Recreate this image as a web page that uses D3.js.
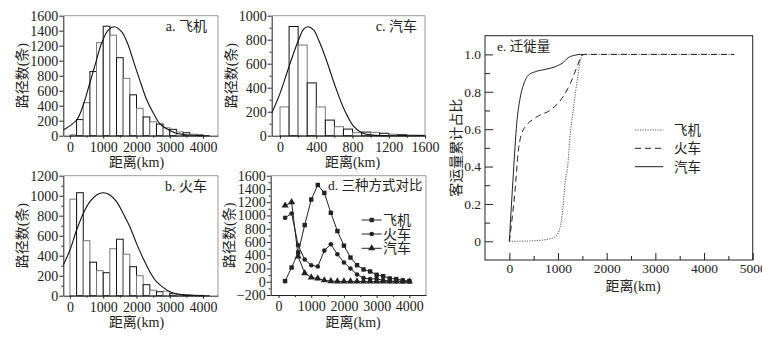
<!DOCTYPE html>
<html>
<head>
<meta charset="utf-8">
<script src="https://cdn.jsdelivr.net/npm/d3@7"></script>
<style>
body { margin: 0; background: #fff; }
svg text { font-family: "Liberation Serif", "Noto Sans CJK SC", serif; fill: #222; }
</style>
</head>
<body>
<script>
//histogram bins, 200 km wide (lower edge of each bin)
var binStart = [0, 200, 400, 600, 800, 1000, 1200, 1400, 1600, 1800, 2000, 2200, 2400, 2600, 2800, 3000, 3200, 3400, 3600, 3800];
var planeCounts = [10, 215, 440, 855, 1240, 1460, 1340, 1040, 765, 545, 365, 250, 185, 155, 105, 85, 50, 40, 20, 10];
var trainCounts = [965, 1030, 550, 335, 250, 230, 470, 565, 415, 290, 200, 110, 55, 40, 45, 20, 10, 5, 5, 3];

//car bins are 100 km wide
var carBinStart = [0, 100, 200, 300, 400, 500, 600, 700, 800, 900, 1000, 1100, 1200, 1300, 1400, 1500];
var carCounts = [240, 910, 755, 440, 240, 130, 75, 55, 25, 30, 28, 20, 12, 8, 5, 3];

//panel d: counts at upper bin edge
var compX = [200, 400, 600, 800, 1000, 1200, 1400, 1600, 1800, 2000, 2200, 2400, 2600, 2800, 3000, 3200, 3400, 3600, 3800, 4000];
var compCar = [1150, 1200, 380, 130, 65, 50, 22, 10, 5, 5, 5, 5, 5, 5, 5, 5, 5, 5, 5, 3];

//fitted curves
var planeFitX = [-200, 200, 400, 580, 770, 950, 1150, 1330, 1550, 1730, 1930, 2130, 2310, 2510, 2690, 2880, 3150, 3550, 4200];
var planeFitY = [76, 209, 409, 676, 965, 1232, 1409, 1453, 1387, 1232, 965, 699, 476, 299, 165, 99, 40, 9, 0];
var trainFitX = [-200, 0, 200, 400, 600, 800, 1000, 1200, 1400, 1600, 1800, 2000, 2200, 2400, 2600, 2800, 3000, 3300, 3750, 4200];
var trainFitY = [307, 457, 657, 823, 940, 1007, 1030, 1007, 940, 823, 690, 523, 373, 240, 140, 83, 40, 13, 2, 0];
var carFitX = [-92, 0, 56, 111, 204, 259, 307, 370, 426, 511, 611, 711, 815, 915, 1019, 1200, 1500];
var carFitY = [187, 353, 478, 603, 797, 887, 908, 881, 797, 631, 408, 214, 75, 20, 5, 0, 0];

//panel e: cumulative share of passengers
var eCarX = [0, 83, 152, 221, 289, 393, 531, 738, 944, 1082, 1219, 1357, 1460, 1520];
var eCarY = [0, 0.364, 0.63, 0.765, 0.836, 0.889, 0.907, 0.92, 0.934, 0.952, 0.984, 0.996, 1.0, 1.0];
var eTrainX = [0, 118, 186, 256, 360, 566, 841, 1082, 1254, 1392, 1496, 1560, 4620];
var eTrainY = [0, 0.274, 0.488, 0.578, 0.622, 0.666, 0.702, 0.765, 0.845, 0.934, 0.996, 1.0, 1.0];
var ePlaneX = [0, 428, 772, 944, 1047, 1103, 1151, 1199, 1240, 1323, 1405, 1496, 1550, 4620];
var ePlaneY = [0, 0.002, 0.01, 0.025, 0.078, 0.185, 0.328, 0.399, 0.542, 0.72, 0.88, 0.996, 1.0, 1.0];

//tick values
var kmTicks = [0, 1000, 2000, 3000, 4000];
var kmMinor = [500, 1500, 2500, 3500];
var carKmTicks = [0, 400, 800, 1200, 1600];
var carKmMinor = [200, 600, 1000, 1400];
var eKmTicks = [0, 1000, 2000, 3000, 4000, 5000];
var eKmMinor = [500, 1500, 2500, 3500, 4500];
var eShareTicks = [0, 0.2, 0.4, 0.6, 0.8, 1.0];
var eShareMinor = [0.1, 0.3, 0.5, 0.7, 0.9];
var legendNames = ["飞机", "火车", "汽车"];

var svg = d3.select("body").append("svg")
    .attr("width", 762)
    .attr("height", 339);

var intFmt = function(d){ return d < 0 ? "\u2212" + (-d) : String(d); };

function styleAxis(g){
    g.selectAll("path, line").attr("stroke", "#222").attr("stroke-width", 1);
    g.selectAll("text").attr("font-size", 14).attr("fill", "#222");
}

//left/bottom axes with a light frame for panels a-d
function setAxes(box, x, y, yTicks, yMinor, xTicks, xMinor){
    var g = svg.append("g");

    //light top and right border
    g.append("path")
        .attr("d", "M" + box.l + "," + box.t + "H" + box.r + "V" + box.b)
        .attr("fill", "none")
        .attr("stroke", "#9a9a9a");

    var ya = g.append("g").attr("transform", "translate(" + box.l + ",0)")
        .call(d3.axisLeft(y).tickValues(yTicks).tickSize(4).tickSizeOuter(0).tickPadding(1).tickFormat(intFmt));
    styleAxis(ya);
    if (yMinor) {
        var ym = g.append("g").attr("transform", "translate(" + box.l + ",0)")
            .call(d3.axisLeft(y).tickValues(yMinor).tickSize(2).tickFormat(""));
        ym.select(".domain").remove();
        styleAxis(ym);
    }

    var xa = g.append("g").attr("transform", "translate(0," + box.b + ")")
        .call(d3.axisBottom(x).tickValues(xTicks).tickSize(3).tickSizeOuter(0).tickPadding(3).tickFormat(intFmt));
    styleAxis(xa);
    var xm = g.append("g").attr("transform", "translate(0," + box.b + ")")
        .call(d3.axisBottom(x).tickValues(xMinor).tickSize(2).tickFormat(""));
    xm.select(".domain").remove();
    styleAxis(xm);
    return g;
}

function axisTitles(box, xMid, title, titleX){
    svg.append("text")
        .attr("transform", "translate(" + (box.l - 36) + "," + ((box.t + box.b) / 2) + ") rotate(-90)")
        .attr("text-anchor", "middle")
        .attr("font-size", 14)
        .text("路径数(条)");
    svg.append("text")
        .attr("x", xMid)
        .attr("y", box.b + 31)
        .attr("text-anchor", "middle")
        .attr("font-size", 14)
        .text("距离(km)");
    svg.append("text")
        .attr("x", titleX)
        .attr("y", box.t + 15)
        .attr("text-anchor", "end")
        .attr("font-size", 14)
        .text(title);
}

function histPanel(box, xDom, yMax, starts, width, counts, fitX, fitY, ticks){
    var x = d3.scaleLinear().domain(xDom).range([box.l, box.r]);
    var y = d3.scaleLinear().domain([0, yMax]).range([box.b, box.t]);

    svg.append("g").selectAll("rect")
        .data(counts)
        .enter()
        .append("rect")
        .attr("x", function(d, i){ return x(starts[i]); })
        .attr("width", function(d, i){ return x(starts[i] + width) - x(starts[i]); })
        .attr("y", function(d){ return y(d); })
        .attr("height", function(d){ return y(0) - y(d); })
        .attr("fill", "#fff")
        .attr("stroke", function(d, i){ return i % 2 ? "#111" : "#777"; })
        .attr("stroke-width", 1);

    var line = d3.line()
        .x(function(d){ return x(d[0]); })
        .y(function(d){ return y(d[1]); })
        .curve(d3.curveCatmullRom);
    svg.append("path")
        .datum(d3.zip(fitX, fitY))
        .attr("d", line)
        .attr("fill", "none")
        .attr("stroke", "#111")
        .attr("stroke-width", 1.1);

    var yTicks = d3.range(0, yMax + 1, 200);
    var yMinor = ticks.yMinor ? d3.range(100, yMax, 200) : null;
    setAxes(box, x, y, yTicks, yMinor, ticks.x, ticks.xm);
    return x;
}

//a. plane
var boxA = {l: 63.3, r: 218, t: 15.7, b: 135.7};
var xA = histPanel(boxA, [-200, 4450], 1600, binStart, 200, planeCounts, planeFitX, planeFitY,
    {x: kmTicks, xm: kmMinor, yMinor: false});
axisTitles(boxA, xA(2000), "a. 飞机", 207);

//c. car
var boxC = {l: 271.7, r: 425, t: 15.7, b: 135.7};
var xC = histPanel(boxC, [-92, 1600], 1000, carBinStart, 100, carCounts, carFitX, carFitY,
    {x: carKmTicks, xm: carKmMinor, yMinor: true});
axisTitles(boxC, xC(800), "c. 汽车", 417);

//b. train
var boxB = {l: 63.3, r: 218, t: 175.7, b: 295.7};
var xB = histPanel(boxB, [-200, 4450], 1200, binStart, 200, trainCounts, trainFitX, trainFitY,
    {x: kmTicks, xm: kmMinor, yMinor: true});
axisTitles(boxB, xB(2000), "b. 火车", 207);

//d. comparison of the three modes
var boxD = {l: 270.7, r: 426, t: 175.7, b: 295};
var xD = d3.scaleLinear().domain([-240, 4510]).range([boxD.l, boxD.r]);
var yD = d3.scaleLinear().domain([-200, 1600]).range([boxD.b, boxD.t]);
var series = [planeCounts, trainCounts, compCar];
var lineD = d3.line()
    .x(function(d, i){ return xD(compX[i]); })
    .y(function(d){ return yD(d); });

function marker(g, kind, cx, cy){
    if (kind == 0) {
        g.append("rect").attr("x", cx - 2.2).attr("y", cy - 2.2).attr("width", 4.4).attr("height", 4.4).attr("fill", "#222");
    } else if (kind == 1) {
        g.append("circle").attr("cx", cx).attr("cy", cy).attr("r", 2.3).attr("fill", "#222");
    } else {
        g.append("path").attr("d", d3.symbol(d3.symbolTriangle, 22)()).attr("transform", "translate(" + cx + "," + cy + ")").attr("fill", "#222");
    }
}

series.forEach(function(s, k){
    var g = svg.append("g");
    g.append("path")
        .datum(s)
        .attr("d", lineD)
        .attr("fill", "none")
        .attr("stroke", "#222")
        .attr("stroke-width", 1);
    s.forEach(function(v, i){ marker(g, k, xD(compX[i]), yD(v)); });
});
setAxes(boxD, xD, yD, d3.range(-200, 1601, 200), d3.range(-100, 1600, 200), kmTicks, kmMinor);
svg.append("text")
    .attr("transform", "translate(" + (boxD.l - 37) + "," + ((boxD.t + boxD.b) / 2) + ") rotate(-90)")
    .attr("text-anchor", "middle").attr("font-size", 14).text("路径数(条)");
svg.append("text").attr("x", xD(2280)).attr("y", boxD.b + 32)
    .attr("text-anchor", "middle").attr("font-size", 14).text("距离(km)");
svg.append("text").attr("x", 328).attr("y", 190).attr("font-size", 13.5).text("d. 三种方式对比");

var legD = [220, 234, 248.3];
legendNames.forEach(function(n, k){
    var g = svg.append("g");
    g.append("line").attr("x1", 361.7).attr("x2", 381.7).attr("y1", legD[k]).attr("y2", legD[k])
        .attr("stroke", "#222");
    marker(g, k, 371.7, legD[k]);
    g.append("text").attr("x", 383).attr("y", legD[k] + 5).attr("font-size", 14).text(n);
});

//e. cumulative migration
var boxE = {l: 485, r: 752.7, t: 35.7, b: 260};
var xE = d3.scaleLinear().domain([-500, 5000]).range([boxE.l, boxE.r]);
var yE = d3.scaleLinear().domain([-0.1, 1.1]).range([boxE.b, boxE.t]);

var eg = svg.append("g");
eg.append("rect")
    .attr("x", boxE.l).attr("y", boxE.t)
    .attr("width", boxE.r - boxE.l).attr("height", boxE.b - boxE.t)
    .attr("fill", "none").attr("stroke", "#222");

var exa = eg.append("g").attr("transform", "translate(0," + boxE.b + ")")
    .call(d3.axisBottom(xE).tickValues(eKmTicks).tickSizeInner(-7).tickSizeOuter(0).tickPadding(3).tickFormat(intFmt));
var exm = eg.append("g").attr("transform", "translate(0," + boxE.b + ")")
    .call(d3.axisBottom(xE).tickValues(eKmMinor).tickSizeInner(-4).tickSizeOuter(0).tickFormat(""));
var eya = eg.append("g").attr("transform", "translate(" + boxE.l + ",0)")
    .call(d3.axisLeft(yE).tickValues(eShareTicks).tickSizeInner(-8).tickSizeOuter(0).tickPadding(4)
        .tickFormat(function(d){ return d == 0 ? "0" : d3.format(".1f")(d); }));
var eym = eg.append("g").attr("transform", "translate(" + boxE.l + ",0)")
    .call(d3.axisLeft(yE).tickValues(eShareMinor).tickSizeInner(-5).tickSizeOuter(0).tickFormat(""));
[exa, exm, eya, eym].forEach(function(a){
    a.select(".domain").remove();
    styleAxis(a);
    a.selectAll("text").attr("font-size", 13.5);
});

var lineE = d3.line()
    .x(function(d){ return xE(d[0]); })
    .y(function(d){ return yE(d[1]); })
    .curve(d3.curveMonotoneX);
var eSeries = [
    {x: ePlaneX, y: ePlaneY, dash: "1.2,1.3", color: "#555"},
    {x: eTrainX, y: eTrainY, dash: "6,4", color: "#222"},
    {x: eCarX, y: eCarY, dash: null, color: "#222"}
];
eSeries.forEach(function(s){
    eg.append("path")
        .datum(d3.zip(s.x, s.y))
        .attr("d", lineE)
        .attr("fill", "none")
        .attr("stroke", s.color)
        .attr("stroke-width", 1)
        .attr("stroke-dasharray", s.dash);
});

var legE = [130, 148.3, 166.7];
legendNames.forEach(function(n, k){
    eg.append("line").attr("x1", 635).attr("x2", 663.3).attr("y1", legE[k]).attr("y2", legE[k])
        .attr("stroke", eSeries[k].color).attr("stroke-dasharray", eSeries[k].dash);
    eg.append("text").attr("x", 674).attr("y", legE[k] + 5).attr("font-size", 13.5).text(n);
});

eg.append("text").attr("x", 497).attr("y", 51).attr("font-size", 13.5).text("e. 迁徙量");
eg.append("text")
    .attr("transform", "translate(461," + ((boxE.t + boxE.b) / 2) + ") rotate(-90)")
    .attr("text-anchor", "middle").attr("font-size", 14).text("客运量累计占比");
eg.append("text").attr("x", 633).attr("y", 291)
    .attr("text-anchor", "middle").attr("font-size", 14).text("距离(km)");
</script>
</body>
</html>
